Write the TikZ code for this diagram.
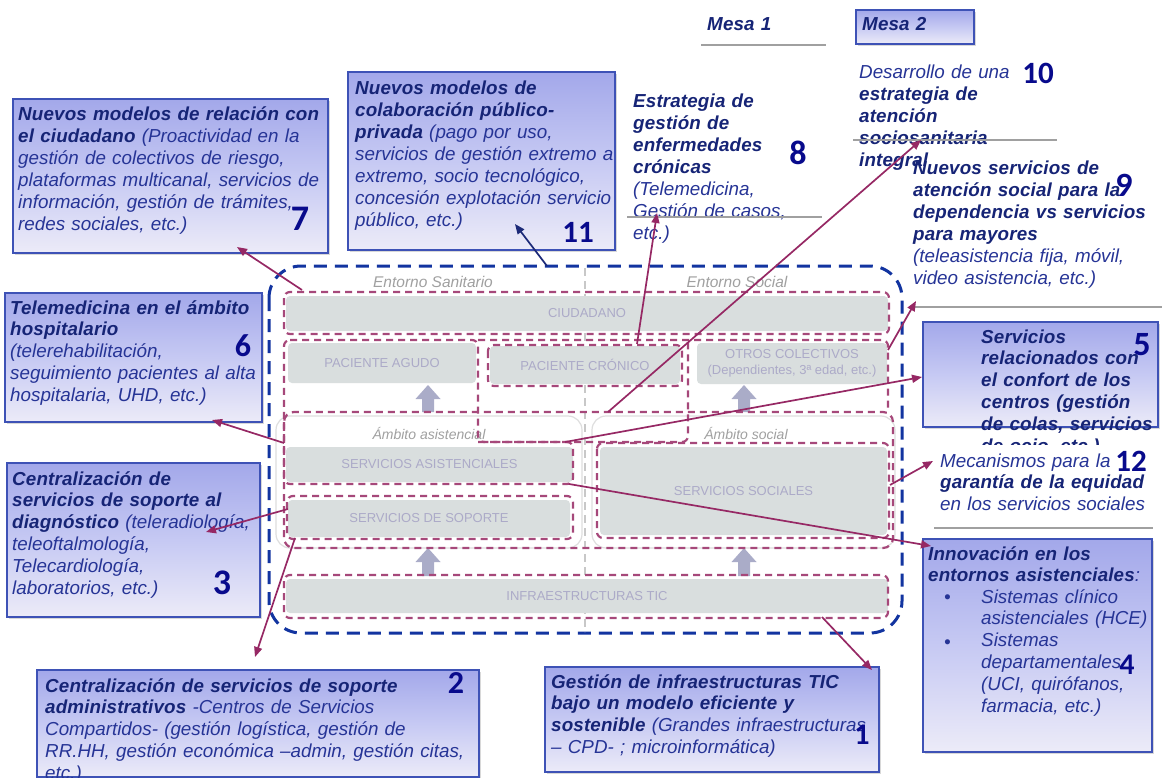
\documentclass[tikz,border=0pt]{standalone}
\usepackage{fontspec}
\setmainfont{Liberation Sans}[BoldItalicFeatures={LetterSpace=0.8}]
\newfontfamily\numfont{Carlito}
\usetikzlibrary{arrows.meta,shadows}
\definecolor{boxtop}{RGB}{163,168,234}
\definecolor{boxmid}{RGB}{198,201,243}
\definecolor{boxbot}{RGB}{236,235,248}
\definecolor{boxline}{RGB}{62,82,182}
\definecolor{titleblue}{RGB}{22,36,118}
\definecolor{txtblue}{RGB}{38,52,150}
\definecolor{numblue}{RGB}{8,10,140}
\definecolor{sepgray}{RGB}{160,160,160}
\definecolor{framblue}{RGB}{18,52,160}
\definecolor{magdash}{RGB}{166,72,122}
\definecolor{magarrow}{RGB}{150,40,100}
\definecolor{cellgray}{RGB}{217,222,222}
\definecolor{celltext}{RGB}{172,170,200}
\definecolor{labgray}{RGB}{160,160,160}
\definecolor{blockarrow}{RGB}{170,172,200}
\definecolor{navyarrow}{RGB}{28,42,120}
\definecolor{ambline}{RGB}{222,222,222}
\definecolor{midgray}{RGB}{200,200,200}
\newcommand{\bfx}[1]{{\bfseries\color{titleblue}#1}}
\begin{document}
\begin{tikzpicture}[x=1pt,y=-1pt,
  infobox/.style={draw=boxline,line width=1.3pt,top color=boxtop,bottom color=boxbot,middle color=boxmid,
    drop shadow={shadow xshift=1.5pt,shadow yshift=-2pt,opacity=0.3},inner sep=0pt,outer sep=0pt,anchor=north west},
  txt/.style={anchor=base west,inner sep=0pt,text width=460pt,align=left,
    font=\fontsize{18.8}{21.9}\selectfont\itshape,text=txtblue},
  numlab/.style={font=\numfont\bfseries\fontsize{#1}{#1}\selectfont,text=numblue,inner sep=0pt},
  cell/.style={fill=cellgray,rounded corners=4pt,inner sep=0pt,text=celltext,font=\fontsize{13}{15}\selectfont,align=center},
  lab/.style={text=labgray,font=\fontsize{15.5}{17}\selectfont\itshape,inner sep=0pt},
  sublab/.style={text=labgray,font=\fontsize{14}{16}\selectfont\itshape,inner sep=0pt},
  magd/.style={draw=magdash,line width=2.2pt,dash pattern=on 7pt off 5pt,rounded corners=6pt},
  bigframe/.style={draw=framblue,line width=3pt,dash pattern=on 13pt off 8pt,rounded corners=32pt},
  ambit/.style={draw=ambline,line width=1.2pt,fill=white,rounded corners=14pt},
  sepline/.style={draw=sepgray,line width=1.5pt},
  conn/.style={draw=magarrow,line width=1.7pt,-{Triangle[length=10pt,width=8pt]}},
  connb/.style={conn,draw=navyarrow},
  barrow/.style={fill=blockarrow}]
\useasboundingbox (0,0) rectangle (1162,778);
\fill[white] (0,0) rectangle (1162,778);

% ---------- central diagram ----------
\draw[bigframe] (269,266) rectangle (902,633);
\draw[midgray,line width=1.2pt,dash pattern=on 8pt off 5pt] (585,268) -- (585,632);
\draw[ambit] (276,416) rectangle (582,548);
\draw[ambit] (592,416) rectangle (895,548);

\node[lab] (entsan) at (433,282) {Entorno Sanitario};
\node[lab] (entsoc) at (737,282) {Entorno Social};
\node[sublab] (ambas) at (429,433) {Ámbito asistencial};
\node[sublab] (ambso) at (746,433) {Ámbito social};

\node[cell,minimum width=602pt,minimum height=35pt] (ciud) at (587,313.5) {CIUDADANO};
\node[cell,minimum width=188pt,minimum height=40pt] (agudo) at (382,363) {PACIENTE AGUDO};
\node[cell,minimum width=190pt,minimum height=38pt] (cron) at (585,365) {PACIENTE CRÓNICO};
\node[cell,minimum width=190pt,minimum height=41pt] (otros) at (792,363.5) {OTROS COLECTIVOS\\[1pt](Dependientes, 3ª edad, etc.)};
\node[cell,minimum width=287pt,minimum height=35pt] (asist) at (429.5,464.5) {SERVICIOS ASISTENCIALES};
\node[cell,minimum width=282pt,minimum height=37pt] (sopor) at (429,518.5) {SERVICIOS DE SOPORTE};
\node[cell,minimum width=287pt,minimum height=88pt] (socia) at (743.5,491) {SERVICIOS SOCIALES};
\node[cell,minimum width=602pt,minimum height=34pt] (infra) at (587,596) {INFRAESTRUCTURAS TIC};

\foreach \ax/\at/\ab in {428/385/412, 428/548/576, 744/385/412, 744/548/576}{
  \fill[barrow] (\ax-6,\ab) -- (\ax-6,\at+14) -- (\ax-12.5,\at+14) -- (\ax,\at) -- (\ax+12.5,\at+14) -- (\ax+6,\at+14) -- (\ax+6,\ab) -- cycle;
}

\draw[magd] (284,292) rectangle (889,334);
\draw[magd] (284,340) -- (478,340) -- (478,442) -- (573,442) -- (573,484) -- (284,484) -- cycle;
\draw[magd] (478,340) -- (888,340) -- (888,412);
\draw[magd] (478,442) -- (688,442) -- (688,340);
\draw[magd] (488,345) rectangle (682,386);
\draw[magd,rounded corners=10pt] (284,412) rectangle (893,548);
\draw[magd] (287,496) rectangle (573,539);
\draw[magd] (597,443) rectangle (889,538);
\draw[magd] (284,575) rectangle (888,618);

% ---------- info boxes ----------
\node[infobox,minimum width=315pt,minimum height=154pt] (b7) at (13,99) {};
\node[infobox,minimum width=267pt,minimum height=178pt] (b11) at (348,72) {};
\node[infobox,minimum width=257pt,minimum height=129pt] (b6) at (5,293) {};
\node[infobox,minimum width=253pt,minimum height=154pt] (b3) at (7,463) {};
\node[infobox,minimum width=442pt,minimum height=107pt] (b2) at (37,670) {};
\node[infobox,minimum width=334pt,minimum height=105pt] (b1) at (545,667) {};
\node[infobox,minimum width=235pt,minimum height=105pt] (b5) at (923,322) {};
\node[infobox,minimum width=229pt,minimum height=213pt] (b4) at (923,539) {};
\node[infobox,minimum width=118pt,minimum height=34pt] (bm2) at (856,10) {};

% ---------- texts ----------
\node[txt] (mesa1) at (707,31) {\bfx{Mesa 1}};
\node[txt] (mesa2) at (862,31) {\bfx{Mesa 2}};

\node[txt] (t7) at (18,121) {\bfx{Nuevos modelos de relación con}\\ \bfx{el ciudadano} (Proactividad en la\\ gestión de colectivos de riesgo,\\ plataformas multicanal, servicios de\\ información, gestión de trámites,\\ redes sociales, etc.)};
\node[txt] (t11) at (355,95) {\bfx{Nuevos modelos de}\\ \bfx{colaboración público-}\\ \bfx{privada} (pago por uso,\\ servicios de gestión extremo a\\ extremo, socio tecnológico,\\ concesión explotación servicio\\ público, etc.)};
\node[txt] (t8) at (633,108) {\bfx{Estrategia de}\\ \bfx{gestión de}\\ \bfx{enfermedades}\\ \bfx{crónicas}\\ (Telemedicina,\\ Gestión de casos,\\ etc.)};
\node[txt] (t10) at (859,79) {Desarrollo de una\\ \bfx{estrategia de}\\ \bfx{atención}\\ \bfx{sociosanitaria}\\ \bfx{integral}};
\node[txt] (t9) at (913,175) {\bfx{Nuevos servicios de}\\ \bfx{atención social para la}\\ \bfx{dependencia vs servicios}\\ \bfx{para mayores}\\ (teleasistencia fija, móvil,\\ video asistencia, etc.)};
\begin{scope}
\clip (900,300) rectangle (1162,444);
\node[txt] (t5) at (981,343) {\bfx{Servicios}\\ \bfx{relacionados con}\\ \bfx{el confort de los}\\ \bfx{centros (gestión}\\ \bfx{de colas, servicios}\\ \bfx{de ocio, etc.)}};
\end{scope}
\node[txt] (t12) at (940,467) {Mecanismos para la\\ \bfx{garantía de la equidad}\\ en los servicios sociales};
\node[txt] (t4a) at (928,560) {\bfx{Innovación en los}\\ \bfx{entornos asistenciales}:};
\node[txt] (t4b) at (981,603) {Sistemas clínico\\ asistenciales (HCE)\\ Sistemas\\ departamentales\\ (UCI, quirófanos,\\ farmacia, etc.)};
\node[txt] (bul1) at (944,603) {•};
\node[txt] (bul2) at (944,648) {•};
\node[txt] (t6) at (10,314) {\bfx{Telemedicina en el ámbito}\\ \bfx{hospitalario}\\ (telerehabilitación,\\ seguimiento pacientes al alta\\ hospitalaria, UHD, etc.)};
\node[txt] (t3) at (12,485) {\bfx{Centralización de}\\ \bfx{servicios de soporte al}\\ \bfx{diagnóstico} (teleradiología,\\ teleoftalmología,\\ Telecardiología,\\ laboratorios, etc.)};
\node[txt] (t2) at (45,692) {\bfx{Centralización de servicios de soporte}\\ \bfx{administrativos} -Centros de Servicios\\ Compartidos- (gestión logística, gestión de\\ RR.HH, gestión económica –admin, gestión citas,\\ etc.)};
\node[txt] (t1) at (551,688) {\bfx{Gestión de infraestructuras TIC}\\ \bfx{bajo un modelo eficiente y}\\ \bfx{sostenible} (Grandes infraestructuras\\ – CPD- ; microinformática)};

% ---------- numbers ----------
\node[numlab=36] (n7) at (300,219) {7};
\node[numlab=31] (n11) at (578,232) {11};
\node[numlab=34] (n8) at (798,153) {8};
\node[numlab=31] (n10) at (1038,73) {10};
\node[numlab=34] (n9) at (1124,185) {9};
\node[numlab=34] (n5) at (1142,345) {5};
\node[numlab=31] (n12) at (1131,461) {12};
\node[numlab=30] (n4) at (1127,665) {4};
\node[numlab=32] (n6) at (243,346) {6};
\node[numlab=36] (n3) at (222,583) {3};
\node[numlab=32] (n2) at (456,683) {2};
\node[numlab=30] (n1) at (862,735) {1};

% ---------- separators ----------
\draw[sepline] (701,45) -- (826,45);
\draw[sepline] (627,217) -- (822,217);
\draw[sepline] (853,140) -- (1057,140);
\draw[sepline] (915,307) -- (1162,307);
\draw[sepline] (934,528) -- (1153,528);

% ---------- connectors ----------
\coordinate (s7) at (302,290);  \coordinate (e7) at (237,247);
\coordinate (s11) at (547,266); \coordinate (e11) at (515,224);
\coordinate (s8) at (637,344);  \coordinate (e8) at (657,213);
\coordinate (s10) at (608,412); \coordinate (e10) at (921,140);
\coordinate (s9) at (888,350);  \coordinate (e9) at (916,301);
\coordinate (s5) at (565,442);  \coordinate (e5) at (922,377);
\coordinate (s12) at (890,485); \coordinate (e12) at (933,461);
\coordinate (s4) at (569,484);  \coordinate (e4) at (931,546);
\coordinate (s6) at (284,443);  \coordinate (e6) at (212,420);
\coordinate (s3) at (288,509);  \coordinate (e3) at (206,532);
\coordinate (s2) at (295,538);  \coordinate (e2) at (255,657);
\coordinate (s1) at (822,617);  \coordinate (e1) at (872,670);
\draw[conn] (s7) -- (e7);
\draw[connb] (s11) -- (e11);
\draw[conn] (s8) -- (e8);
\draw[conn] (s10) -- (e10);
\draw[conn] (s9) -- (e9);
\draw[conn] (s5) -- (e5);
\draw[conn] (s12) -- (e12);
\draw[conn] (s4) -- (e4);
\draw[conn] (s6) -- (e6);
\draw[conn] (s3) -- (e3);
\draw[conn] (s2) -- (e2);
\draw[conn] (s1) -- (e1);
\end{tikzpicture}
\end{document}
